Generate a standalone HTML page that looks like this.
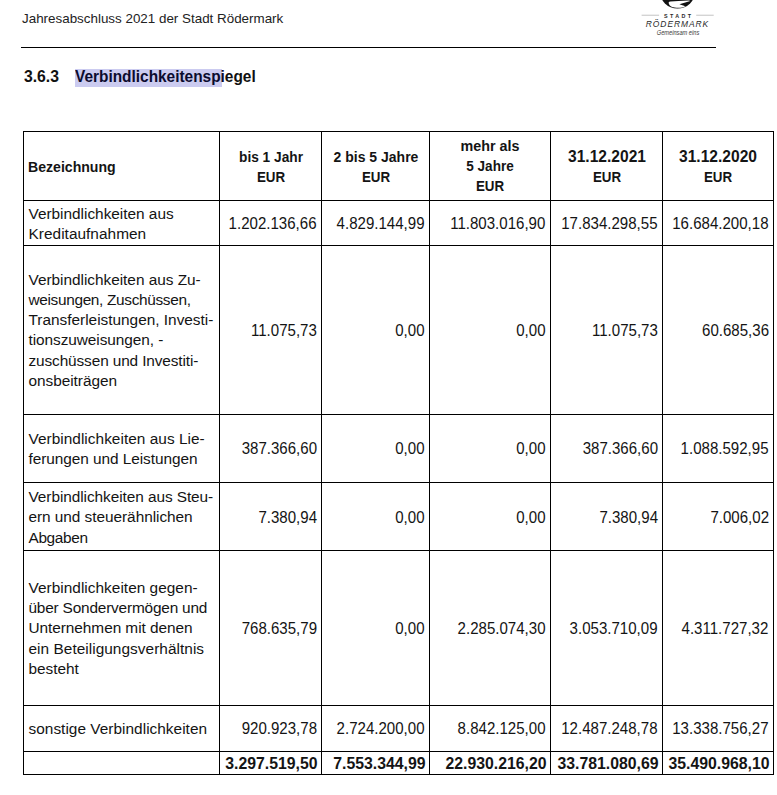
<!DOCTYPE html>
<html><head><meta charset="utf-8"><title>Verbindlichkeitenspiegel</title>
<style>
html,body{margin:0;padding:0;background:#fff;}
body{width:777px;height:795px;position:relative;overflow:hidden;font-family:"Liberation Sans", sans-serif;}
.t{position:absolute;white-space:nowrap;}
.l{position:absolute;}
</style></head><body>
<div class="t" style="left:22px;top:9.54px;font-size:13.4px;line-height:17.42px;font-weight:400;color:#222;">Jahresabschluss 2021 der Stadt Rödermark</div>
<div class="l" style="left:21px;top:47px;width:695px;height:1px;background:#000"></div>
<div class="l" style="left:75px;top:69px;width:147px;height:18px;background:#cbcbf0"></div>
<div class="t" style="left:24px;top:65.95px;font-size:16.4px;line-height:21.32px;font-weight:700;color:#111;transform:scaleX(0.9600);transform-origin:left center;">3.6.3</div>
<div class="t" style="left:75.3px;top:65.95px;font-size:16.4px;line-height:21.32px;font-weight:700;color:#111;transform:scaleX(0.9400);transform-origin:left center;"><span style="color:#0b0b2e">Verbindlichkeitenspi</span>egel</div>
<div class="l" style="left:23px;top:131px;width:751px;height:1px;background:#000"></div>
<div class="l" style="left:23px;top:200px;width:751px;height:1px;background:#000"></div>
<div class="l" style="left:23px;top:245px;width:751px;height:1px;background:#000"></div>
<div class="l" style="left:23px;top:414px;width:751px;height:1px;background:#000"></div>
<div class="l" style="left:23px;top:482px;width:751px;height:1px;background:#000"></div>
<div class="l" style="left:23px;top:550px;width:751px;height:1px;background:#000"></div>
<div class="l" style="left:23px;top:705px;width:751px;height:1px;background:#000"></div>
<div class="l" style="left:23px;top:751px;width:751px;height:1px;background:#000"></div>
<div class="l" style="left:23px;top:774px;width:751px;height:1px;background:#000"></div>
<div class="l" style="left:23px;top:131px;width:1px;height:644px;background:#000"></div>
<div class="l" style="left:219px;top:131px;width:1px;height:644px;background:#000"></div>
<div class="l" style="left:321px;top:131px;width:1px;height:644px;background:#000"></div>
<div class="l" style="left:429px;top:131px;width:1px;height:644px;background:#000"></div>
<div class="l" style="left:550px;top:131px;width:1px;height:644px;background:#000"></div>
<div class="l" style="left:662px;top:131px;width:1px;height:644px;background:#000"></div>
<div class="l" style="left:773px;top:131px;width:1px;height:644px;background:#000"></div>
<div class="t" style="left:27.7px;top:157.05px;font-size:15.0px;line-height:19.5px;font-weight:700;color:#141414;transform:scaleX(0.9390);transform-origin:left center;">Bezeichnung</div>
<div class="t" style="left:70.50px;width:400px;text-align:center;top:147.05px;font-size:15.0px;line-height:19.5px;font-weight:700;color:#141414;transform:scaleX(0.9130);transform-origin:center center;">bis 1 Jahr</div>
<div class="t" style="left:70.50px;width:400px;text-align:center;top:167.45px;font-size:15.0px;line-height:19.5px;font-weight:700;color:#141414;transform:scaleX(0.8910);transform-origin:center center;">EUR</div>
<div class="t" style="left:175.50px;width:400px;text-align:center;top:147.05px;font-size:15.0px;line-height:19.5px;font-weight:700;color:#141414;transform:scaleX(0.9330);transform-origin:center center;">2 bis 5 Jahre</div>
<div class="t" style="left:175.50px;width:400px;text-align:center;top:167.45px;font-size:15.0px;line-height:19.5px;font-weight:700;color:#141414;transform:scaleX(0.8910);transform-origin:center center;">EUR</div>
<div class="t" style="left:290.00px;width:400px;text-align:center;top:135.65px;font-size:15.0px;line-height:19.5px;font-weight:700;color:#141414;transform:scaleX(0.9550);transform-origin:center center;">mehr als</div>
<div class="t" style="left:290.00px;width:400px;text-align:center;top:156.25px;font-size:15.0px;line-height:19.5px;font-weight:700;color:#141414;transform:scaleX(0.9020);transform-origin:center center;">5 Jahre</div>
<div class="t" style="left:290.00px;width:400px;text-align:center;top:176.45px;font-size:15.0px;line-height:19.5px;font-weight:700;color:#141414;transform:scaleX(0.8910);transform-origin:center center;">EUR</div>
<div class="t" style="left:406.50px;width:400px;text-align:center;top:147.25px;font-size:15.8px;line-height:20.54px;font-weight:700;color:#141414;transform:scaleX(0.9850);transform-origin:center center;">31.12.2021</div>
<div class="t" style="left:406.50px;width:400px;text-align:center;top:167.45px;font-size:15.0px;line-height:19.5px;font-weight:700;color:#141414;transform:scaleX(0.8910);transform-origin:center center;">EUR</div>
<div class="t" style="left:518.00px;width:400px;text-align:center;top:147.25px;font-size:15.8px;line-height:20.54px;font-weight:700;color:#141414;transform:scaleX(0.9850);transform-origin:center center;">31.12.2020</div>
<div class="t" style="left:518.00px;width:400px;text-align:center;top:167.45px;font-size:15.0px;line-height:19.5px;font-weight:700;color:#141414;transform:scaleX(0.8910);transform-origin:center center;">EUR</div>
<div class="t" style="left:28.5px;top:203.50px;font-size:15.4px;line-height:20.02px;font-weight:400;color:#141414;letter-spacing:-0.015px;">Verbindlichkeiten aus</div>
<div class="t" style="left:28.5px;top:223.80px;font-size:15.4px;line-height:20.02px;font-weight:400;color:#141414;letter-spacing:0.029px;">Kreditaufnahmen</div>
<div class="t" style="right:460.20px;text-align:right;top:213.25px;font-size:16.2px;line-height:21.06px;font-weight:400;color:#141414;transform:scaleX(0.9300);transform-origin:right center;">1.202.136,66</div>
<div class="t" style="right:352.20px;text-align:right;top:213.25px;font-size:16.2px;line-height:21.06px;font-weight:400;color:#141414;transform:scaleX(0.9300);transform-origin:right center;">4.829.144,99</div>
<div class="t" style="right:231.20px;text-align:right;top:213.25px;font-size:16.2px;line-height:21.06px;font-weight:400;color:#141414;transform:scaleX(0.9300);transform-origin:right center;">11.803.016,90</div>
<div class="t" style="right:119.20px;text-align:right;top:213.25px;font-size:16.2px;line-height:21.06px;font-weight:400;color:#141414;transform:scaleX(0.9300);transform-origin:right center;">17.834.298,55</div>
<div class="t" style="right:8.20px;text-align:right;top:213.25px;font-size:16.2px;line-height:21.06px;font-weight:400;color:#141414;transform:scaleX(0.9300);transform-origin:right center;">16.684.200,18</div>
<div class="t" style="left:28.5px;top:269.50px;font-size:15.4px;line-height:20.02px;font-weight:400;color:#141414;letter-spacing:-0.025px;">Verbindlichkeiten aus Zu-</div>
<div class="t" style="left:28.5px;top:289.80px;font-size:15.4px;line-height:20.02px;font-weight:400;color:#141414;letter-spacing:-0.333px;">weisungen, Zuschüssen,</div>
<div class="t" style="left:28.5px;top:310.10px;font-size:15.4px;line-height:20.02px;font-weight:400;color:#141414;letter-spacing:-0.007px;">Transferleistungen, Investi-</div>
<div class="t" style="left:28.5px;top:330.40px;font-size:15.4px;line-height:20.02px;font-weight:400;color:#141414;letter-spacing:-0.067px;">tionszuweisungen, -</div>
<div class="t" style="left:28.5px;top:350.70px;font-size:15.4px;line-height:20.02px;font-weight:400;color:#141414;letter-spacing:-0.121px;">zuschüssen und Investiti-</div>
<div class="t" style="left:28.5px;top:371.00px;font-size:15.4px;line-height:20.02px;font-weight:400;color:#141414;letter-spacing:-0.045px;">onsbeiträgen</div>
<div class="t" style="right:460.20px;text-align:right;top:319.85px;font-size:16.2px;line-height:21.06px;font-weight:400;color:#141414;transform:scaleX(0.9300);transform-origin:right center;">11.075,73</div>
<div class="t" style="right:352.20px;text-align:right;top:319.85px;font-size:16.2px;line-height:21.06px;font-weight:400;color:#141414;transform:scaleX(0.9300);transform-origin:right center;">0,00</div>
<div class="t" style="right:231.20px;text-align:right;top:319.85px;font-size:16.2px;line-height:21.06px;font-weight:400;color:#141414;transform:scaleX(0.9300);transform-origin:right center;">0,00</div>
<div class="t" style="right:119.20px;text-align:right;top:319.85px;font-size:16.2px;line-height:21.06px;font-weight:400;color:#141414;transform:scaleX(0.9300);transform-origin:right center;">11.075,73</div>
<div class="t" style="right:8.20px;text-align:right;top:319.85px;font-size:16.2px;line-height:21.06px;font-weight:400;color:#141414;transform:scaleX(0.9300);transform-origin:right center;">60.685,36</div>
<div class="t" style="left:28.5px;top:428.60px;font-size:15.4px;line-height:20.02px;font-weight:400;color:#141414;letter-spacing:0.032px;">Verbindlichkeiten aus Lie-</div>
<div class="t" style="left:28.5px;top:448.90px;font-size:15.4px;line-height:20.02px;font-weight:400;color:#141414;letter-spacing:-0.059px;">ferungen und Leistungen</div>
<div class="t" style="right:460.20px;text-align:right;top:438.35px;font-size:16.2px;line-height:21.06px;font-weight:400;color:#141414;transform:scaleX(0.9300);transform-origin:right center;">387.366,60</div>
<div class="t" style="right:352.20px;text-align:right;top:438.35px;font-size:16.2px;line-height:21.06px;font-weight:400;color:#141414;transform:scaleX(0.9300);transform-origin:right center;">0,00</div>
<div class="t" style="right:231.20px;text-align:right;top:438.35px;font-size:16.2px;line-height:21.06px;font-weight:400;color:#141414;transform:scaleX(0.9300);transform-origin:right center;">0,00</div>
<div class="t" style="right:119.20px;text-align:right;top:438.35px;font-size:16.2px;line-height:21.06px;font-weight:400;color:#141414;transform:scaleX(0.9300);transform-origin:right center;">387.366,60</div>
<div class="t" style="right:8.20px;text-align:right;top:438.35px;font-size:16.2px;line-height:21.06px;font-weight:400;color:#141414;transform:scaleX(0.9300);transform-origin:right center;">1.088.592,95</div>
<div class="t" style="left:28.5px;top:487.05px;font-size:15.4px;line-height:20.02px;font-weight:400;color:#141414;letter-spacing:-0.069px;">Verbindlichkeiten aus Steu-</div>
<div class="t" style="left:28.5px;top:507.35px;font-size:15.4px;line-height:20.02px;font-weight:400;color:#141414;letter-spacing:-0.045px;">ern und steuerähnlichen</div>
<div class="t" style="left:28.5px;top:527.65px;font-size:15.4px;line-height:20.02px;font-weight:400;color:#141414;letter-spacing:-0.350px;">Abgaben</div>
<div class="t" style="right:460.20px;text-align:right;top:506.95px;font-size:16.2px;line-height:21.06px;font-weight:400;color:#141414;transform:scaleX(0.9300);transform-origin:right center;">7.380,94</div>
<div class="t" style="right:352.20px;text-align:right;top:506.95px;font-size:16.2px;line-height:21.06px;font-weight:400;color:#141414;transform:scaleX(0.9300);transform-origin:right center;">0,00</div>
<div class="t" style="right:231.20px;text-align:right;top:506.95px;font-size:16.2px;line-height:21.06px;font-weight:400;color:#141414;transform:scaleX(0.9300);transform-origin:right center;">0,00</div>
<div class="t" style="right:119.20px;text-align:right;top:506.95px;font-size:16.2px;line-height:21.06px;font-weight:400;color:#141414;transform:scaleX(0.9300);transform-origin:right center;">7.380,94</div>
<div class="t" style="right:8.20px;text-align:right;top:506.95px;font-size:16.2px;line-height:21.06px;font-weight:400;color:#141414;transform:scaleX(0.9300);transform-origin:right center;">7.006,02</div>
<div class="t" style="left:28.5px;top:577.65px;font-size:15.4px;line-height:20.02px;font-weight:400;color:#141414;letter-spacing:0.026px;">Verbindlichkeiten gegen-</div>
<div class="t" style="left:28.5px;top:597.95px;font-size:15.4px;line-height:20.02px;font-weight:400;color:#141414;letter-spacing:-0.191px;">über Sondervermögen und</div>
<div class="t" style="left:28.5px;top:618.25px;font-size:15.4px;line-height:20.02px;font-weight:400;color:#141414;letter-spacing:-0.055px;">Unternehmen mit denen</div>
<div class="t" style="left:28.5px;top:638.55px;font-size:15.4px;line-height:20.02px;font-weight:400;color:#141414;letter-spacing:0.040px;">ein Beteiligungsverhältnis</div>
<div class="t" style="left:28.5px;top:658.85px;font-size:15.4px;line-height:20.02px;font-weight:400;color:#141414;letter-spacing:-0.050px;">besteht</div>
<div class="t" style="right:460.20px;text-align:right;top:617.85px;font-size:16.2px;line-height:21.06px;font-weight:400;color:#141414;transform:scaleX(0.9300);transform-origin:right center;">768.635,79</div>
<div class="t" style="right:352.20px;text-align:right;top:617.85px;font-size:16.2px;line-height:21.06px;font-weight:400;color:#141414;transform:scaleX(0.9300);transform-origin:right center;">0,00</div>
<div class="t" style="right:231.20px;text-align:right;top:617.85px;font-size:16.2px;line-height:21.06px;font-weight:400;color:#141414;transform:scaleX(0.9300);transform-origin:right center;">2.285.074,30</div>
<div class="t" style="right:119.20px;text-align:right;top:617.85px;font-size:16.2px;line-height:21.06px;font-weight:400;color:#141414;transform:scaleX(0.9300);transform-origin:right center;">3.053.710,09</div>
<div class="t" style="right:8.20px;text-align:right;top:617.85px;font-size:16.2px;line-height:21.06px;font-weight:400;color:#141414;transform:scaleX(0.9300);transform-origin:right center;">4.311.727,32</div>
<div class="t" style="left:28.5px;top:718.75px;font-size:15.4px;line-height:20.02px;font-weight:400;color:#141414;letter-spacing:0.024px;">sonstige Verbindlichkeiten</div>
<div class="t" style="right:460.20px;text-align:right;top:718.35px;font-size:16.2px;line-height:21.06px;font-weight:400;color:#141414;transform:scaleX(0.9300);transform-origin:right center;">920.923,78</div>
<div class="t" style="right:352.20px;text-align:right;top:718.35px;font-size:16.2px;line-height:21.06px;font-weight:400;color:#141414;transform:scaleX(0.9300);transform-origin:right center;">2.724.200,00</div>
<div class="t" style="right:231.20px;text-align:right;top:718.35px;font-size:16.2px;line-height:21.06px;font-weight:400;color:#141414;transform:scaleX(0.9300);transform-origin:right center;">8.842.125,00</div>
<div class="t" style="right:119.20px;text-align:right;top:718.35px;font-size:16.2px;line-height:21.06px;font-weight:400;color:#141414;transform:scaleX(0.9300);transform-origin:right center;">12.487.248,78</div>
<div class="t" style="right:8.20px;text-align:right;top:718.35px;font-size:16.2px;line-height:21.06px;font-weight:400;color:#141414;transform:scaleX(0.9300);transform-origin:right center;">13.338.756,27</div>
<div class="t" style="right:459.50px;text-align:right;top:754.25px;font-size:15.8px;line-height:20.54px;font-weight:700;color:#141414;">3.297.519,50</div>
<div class="t" style="right:351.50px;text-align:right;top:754.25px;font-size:15.8px;line-height:20.54px;font-weight:700;color:#141414;">7.553.344,99</div>
<div class="t" style="right:230.50px;text-align:right;top:754.25px;font-size:15.8px;line-height:20.54px;font-weight:700;color:#141414;">22.930.216,20</div>
<div class="t" style="right:118.50px;text-align:right;top:754.25px;font-size:15.8px;line-height:20.54px;font-weight:700;color:#141414;">33.781.080,69</div>
<div class="t" style="right:7.50px;text-align:right;top:754.25px;font-size:15.8px;line-height:20.54px;font-weight:700;color:#141414;">35.490.968,10</div>
<svg class="l" style="left:640px;top:0px" width="80" height="40" viewBox="640 0 80 40">
 <circle cx="677.5" cy="-9.2" r="17.8" fill="#111"/>
 <path d="M668.6 2.4 C668.9 1.9 669.5 1.7 670.5 1.6 L678.5 1.1 L688.9 0.5 L690.3 1.0 L679.4 4.3 L685.4 6.2 C683 7.5 680.5 7.8 678.5 7.75 C675.5 7.7 673.5 7.4 672.2 7.0 C670 6.0 668.8 4.5 668.6 2.4 Z" fill="#fff"/>
 <rect x="641.6" y="14.8" width="17.5" height="0.7" fill="#aaa"/>
 <rect x="696.2" y="14.8" width="17.5" height="0.7" fill="#aaa"/>
</svg>
<div class="t" style="left:477.60px;width:400px;text-align:center;top:12.92px;font-size:5.4px;line-height:7.02px;font-weight:700;color:#2a2a2a;letter-spacing:2.4px;text-indent:2.4px;">STADT</div>
<div class="t" style="left:477.40px;width:400px;text-align:center;top:17.83px;font-size:9.8px;line-height:12.74px;font-weight:400;color:#2a2a2a;font-style:italic;letter-spacing:1.1px;text-indent:1.1px;transform:scaleX(0.8600);transform-origin:center center;">RÖDERMARK</div>
<div class="t" style="left:477.50px;width:400px;text-align:center;top:28.52px;font-size:6.3px;line-height:8.19px;font-weight:400;color:#3a3a3a;font-style:italic;transform:scaleX(0.9000);transform-origin:center center;">Gemeinsam eins</div>
</body></html>
